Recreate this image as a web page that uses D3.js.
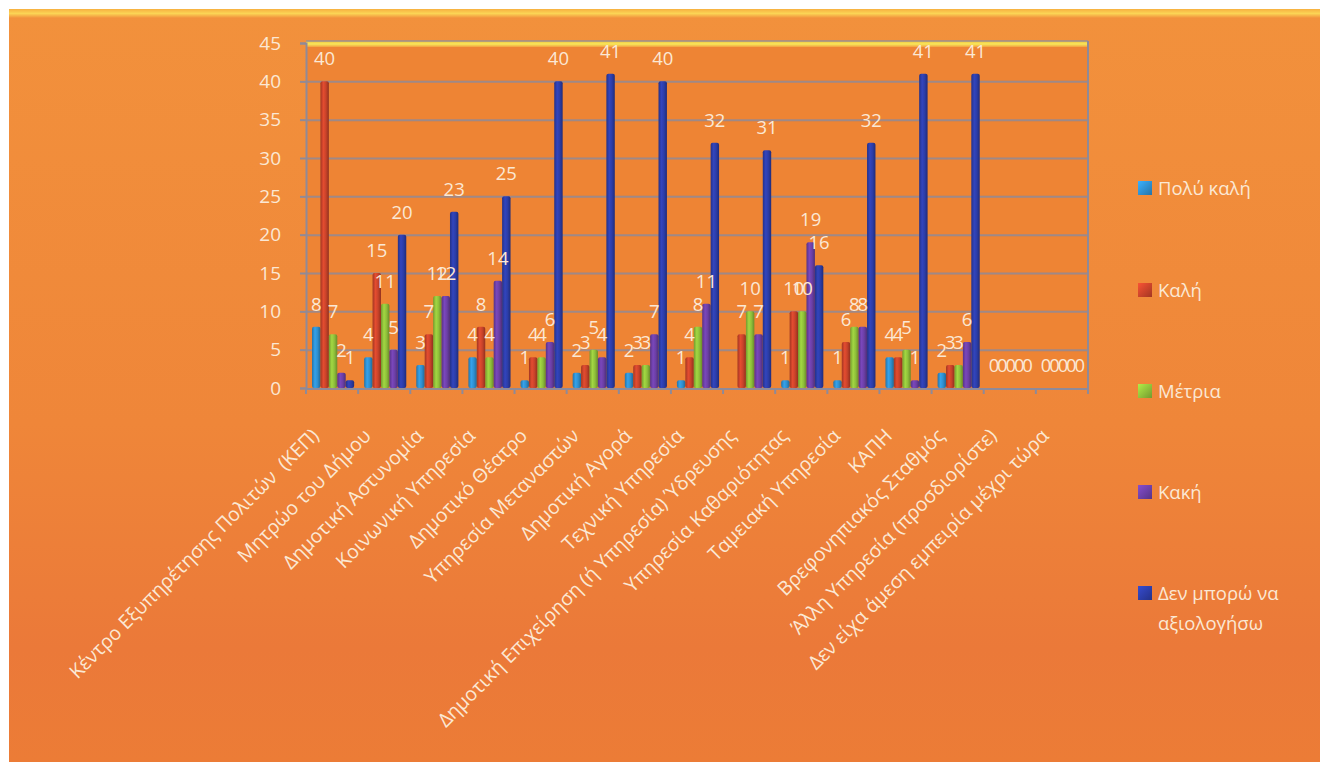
<!DOCTYPE html>
<html><head><meta charset="utf-8">
<script src="https://cdn.jsdelivr.net/npm/d3@7"></script>
<style>
html,body{margin:0;padding:0;background:#fff;}
svg{display:block;}
text{font-family:"Open Sans","Noto Sans",sans-serif;}
</style></head>
<body>
<svg id="chart" width="1320" height="762"></svg>
<script>
const categories = [
  "Κέντρο Εξυπηρέτησης Πολιτών  (ΚΕΠ)",
  "Μητρώο του Δήμου",
  "Δημοτική Αστυνομία",
  "Κοινωνική Υπηρεσία",
  "Δημοτικό Θέατρο",
  "Υπηρεσία Μεταναστών",
  "Δημοτική Αγορά",
  "Τεχνική Υπηρεσία",
  "Δημοτική Επιχείρηση (ή Υπηρεσία) Ύδρευσης",
  "Υπηρεσία Καθαριότητας",
  "Ταμειακή Υπηρεσία",
  "ΚΑΠΗ",
  "Βρεφονηπιακός Σταθμός",
  "Άλλη Υπηρεσία (προσδιορίστε)",
  "Δεν είχα άμεση εμπειρία μέχρι τώρα"
];
const seriesNames = ["Πολύ καλή","Καλή","Μέτρια","Κακή","Δεν μπορώ να αξιολογήσω"];
const veryGood   = [8, 4, 3, 4, 1, 2, 2, 1, null, 1, 1, 4, 2, 0, 0];
const good       = [40,15, 7, 8, 4, 3, 3, 4, 7, 10, 6, 4, 3, 0, 0];
const moderate   = [7, 11,12, 4, 4, 5, 3, 8, 10, 10, 8, 5, 3, 0, 0];
const bad        = [2, 5, 12,14, 6, 4, 7, 11, 7, 19, 8, 1, 6, 0, 0];
const cannotRate = [1, 20,23,25,40,41,40,32, 31, 16,32,41,41, 0, 0];
const yTicks = [0,5,10,15,20,25,30,35,40,45];

const seriesValues = [veryGood, good, moderate, bad, cannotRate];
const seriesColors = ["#2f8fcf","#c9432a","#8fbf3a","#6c3fa6","#2c3da8"];

const svg = d3.select("#chart");
const defs = svg.append("defs");

const bg = defs.append("linearGradient").attr("id","bg").attr("x1",0).attr("y1",0).attr("x2",0).attr("y2",1);
bg.append("stop").attr("offset","0%").attr("stop-color","#f2913c");
bg.append("stop").attr("offset","55%").attr("stop-color","#ef8639");
bg.append("stop").attr("offset","85%").attr("stop-color","#eb7939");
bg.append("stop").attr("offset","100%").attr("stop-color","#ec7c36");

const bevel = defs.append("linearGradient").attr("id","bevel").attr("x1",0).attr("y1",0).attr("x2",0).attr("y2",1);
bevel.append("stop").attr("offset","0%").attr("stop-color","#f7b040");
bevel.append("stop").attr("offset","50%").attr("stop-color","#fbd455");
bevel.append("stop").attr("offset","100%").attr("stop-color","#f2913c");

const topWall = defs.append("linearGradient").attr("id","topwall").attr("x1",0).attr("y1",0).attr("x2",0).attr("y2",1);
topWall.append("stop").attr("offset","0%").attr("stop-color","#f0c040");
topWall.append("stop").attr("offset","50%").attr("stop-color","#f8e85a");
topWall.append("stop").attr("offset","100%").attr("stop-color","#f2a040");

seriesColors.forEach((c,i)=>{
  const g = defs.append("linearGradient").attr("id","bar"+i).attr("x1",0).attr("y1",0).attr("x2",1).attr("y2",0);
  const col = d3.color(c);
  g.append("stop").attr("offset","0%").attr("stop-color",col.darker(0.6));
  g.append("stop").attr("offset","35%").attr("stop-color",col.brighter(0.35));
  g.append("stop").attr("offset","65%").attr("stop-color",col);
  g.append("stop").attr("offset","100%").attr("stop-color",col.darker(0.9));
  const lg = defs.append("linearGradient").attr("id","leg"+i).attr("x1",0).attr("y1",0).attr("x2",1).attr("y2",1);
  lg.append("stop").attr("offset","0%").attr("stop-color",col.brighter(0.6));
  lg.append("stop").attr("offset","100%").attr("stop-color",col.darker(0.6));
});

svg.append("rect").attr("x",9).attr("y",9).attr("width",1311).attr("height",753).attr("fill","url(#bg)");
svg.append("rect").attr("x",9).attr("y",9).attr("width",1311).attr("height",9).attr("fill","url(#bevel)");

const plot = {left:306, right:1088, top:43, bottom:388};

const x = d3.scaleBand().domain(categories).range([plot.left, plot.right]).padding(0);
const sub = d3.scaleBand().domain(d3.range(seriesNames.length)).range([6, x.bandwidth()-4]).padding(0);
const y = d3.scaleLinear().domain([0,45]).range([plot.bottom, plot.top]);

svg.append("rect").attr("x",plot.left).attr("y",plot.top).attr("width",plot.right-plot.left)
  .attr("height",plot.bottom-plot.top).attr("fill","#ee8434");

svg.append("g").attr("transform",`translate(${plot.left},0)`)
  .call(d3.axisLeft(y).tickValues(yTicks.filter(d=>d>0&&d<45)).tickSize(-(plot.right-plot.left)).tickFormat(""))
  .call(g=>g.select(".domain").remove())
  .call(g=>g.selectAll("line").attr("stroke","#8f8a98").attr("stroke-width",2).attr("opacity",0.85));

svg.append("rect").attr("x",plot.left).attr("y",plot.top-2).attr("width",plot.right-plot.left).attr("height",6).attr("fill","url(#topwall)");
svg.append("line").attr("x1",plot.left).attr("x2",plot.right).attr("y1",plot.top-2).attr("y2",plot.top-2).attr("stroke","#9a9090").attr("stroke-width",1.5);

svg.append("line").attr("x1",plot.right).attr("x2",plot.right).attr("y1",plot.top-2).attr("y2",plot.bottom+3).attr("stroke","#8f8a98").attr("stroke-width",2);

svg.append("g").attr("transform",`translate(${plot.left},0)`)
  .call(d3.axisLeft(y).tickValues(yTicks).tickSize(6).tickPadding(19))
  .call(g=>g.select(".domain").attr("stroke","#8f8a98").attr("stroke-width",2))
  .call(g=>g.selectAll(".tick line").attr("stroke","#8f8a98").attr("stroke-width",2))
  .call(g=>g.selectAll("text").attr("fill","#fbe8d4").attr("font-size",19));

const xAxisG = svg.append("g");
xAxisG.append("line").attr("x1",plot.left).attr("x2",plot.right).attr("y1",plot.bottom+1).attr("y2",plot.bottom+1)
  .attr("stroke","#8f8a98").attr("stroke-width",2);
const bounds = categories.map(c=>x(c)).concat([x(categories[categories.length-1])+x.bandwidth()]);
xAxisG.selectAll("line.tk").data(bounds).join("line").attr("class","tk")
  .attr("x1",d=>d).attr("x2",d=>d).attr("y1",plot.bottom).attr("y2",plot.bottom+6)
  .attr("stroke","#8f8a98").attr("stroke-width",2);

svg.append("g").selectAll("text").data(categories).join("text")
  .attr("transform",d=>`translate(${x(d)+x.bandwidth()/2-12},${plot.bottom+49}) rotate(-45)`)
  .attr("text-anchor","end")
  .attr("fill","#fbe8d4").attr("font-size",19.5)
  .style("white-space","pre")
  .text(d=>d);

const groups = svg.append("g").selectAll("g").data(categories).join("g")
  .attr("transform",d=>`translate(${x(d)},0)`);

seriesValues.forEach((vals,si)=>{
  groups.append("rect")
    .attr("x",sub(si)).attr("width",sub.bandwidth())
    .attr("y",(d,i)=> vals[i]==null?plot.bottom:y(vals[i]))
    .attr("height",(d,i)=> vals[i]==null?0:plot.bottom-y(vals[i]))
    .attr("rx",2)
    .attr("fill","url(#bar"+si+")");
});

seriesValues.forEach((vals,si)=>{
  groups.filter((d,i)=>vals[i]!=null).append("text")
    .attr("x",sub(si)+sub.bandwidth()/2)
    .attr("y",d=>{const i=categories.indexOf(d);return y(vals[i])-16;})
    .attr("text-anchor","middle")
    .attr("fill","#fbe8d4").attr("font-size",18.5)
    .text(d=>vals[categories.indexOf(d)]);
});

const legendY = [188,290,391,492,593];
const leg = svg.append("g").selectAll("g").data(seriesNames).join("g")
  .attr("transform",(d,i)=>`translate(1138,${legendY[i]})`);
leg.append("rect").attr("x",0).attr("y",-7).attr("width",14).attr("height",14).attr("fill",(d,i)=>"url(#leg"+i+")");
leg.append("text").attr("x",20).attr("y",7).attr("fill","#fbe8d4").attr("font-size",18.5)
  .each(function(d){
    const t=d3.select(this);
    if(d==="Δεν μπορώ να αξιολογήσω"){
      t.append("tspan").attr("x",20).attr("dy",0).text("Δεν μπορώ να");
      t.append("tspan").attr("x",20).attr("dy",30).text("αξιολογήσω");
    } else t.text(d);
  });
</script>
</body></html>
